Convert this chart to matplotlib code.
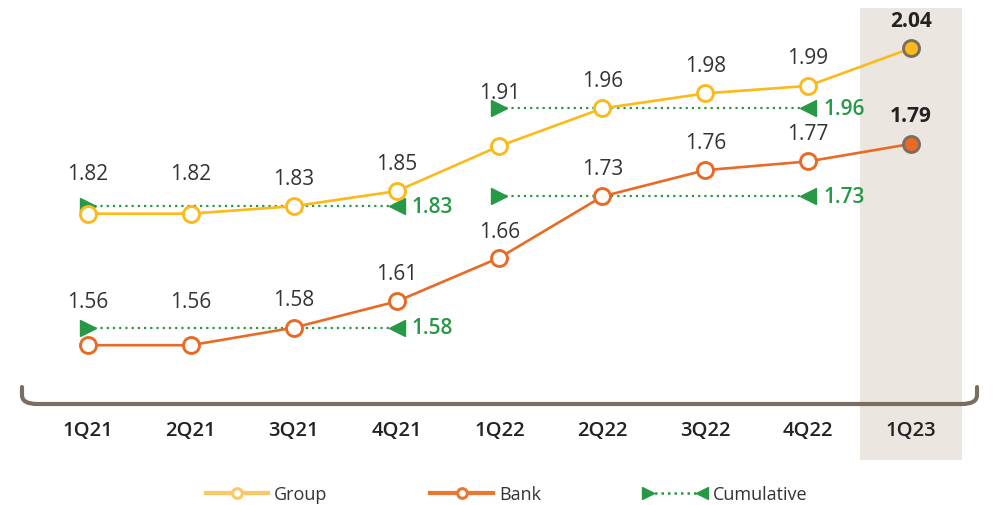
#%% IMPORTS
import numpy as np
import matplotlib.pyplot as plt
from matplotlib.lines import Line2D
from matplotlib.patches import PathPatch
from matplotlib.path import Path
from matplotlib.legend_handler import HandlerBase

#%% DATA
quarters = ['1Q21', '2Q21', '3Q21', '4Q21', '1Q22', '2Q22', '3Q22', '4Q22', '1Q23']
group = [1.82, 1.82, 1.83, 1.85, 1.91, 1.96, 1.98, 1.99, 2.04]
bank = [1.56, 1.56, 1.58, 1.61, 1.66, 1.73, 1.76, 1.77, 1.79]
cum_start = [0, 4]
cum_end = [3, 7]
group_cum = [1.83, 1.96]
bank_cum = [1.58, 1.73]

### styles
c_group = '#fbb91a'
c_bank = '#e96a25'
c_cum = '#279845'
c_edge = '#7a6e62'
c_band = '#ebe7e0'
c_text = '#333333'
font = ['Open Sans', 'DejaVu Sans']
## label offsets above the points (pixels), bigger where a cumulative line starts
group_off = [40, 40, 28, 28, 54, 28, 28, 28, 28]
bank_off = [44, 44, 28, 28, 26, 28, 28, 28, 28]

W, H = 993, 506


class CumHandler(HandlerBase):
    def create_artists(self, legend, orig_handle, xdescent, ydescent,
                       width, height, fontsize, trans):
        y = height / 2 - ydescent
        x0, x1 = -xdescent + 3, width - xdescent - 3
        line = Line2D([x0, x1], [y, y], color=c_cum, lw=1.8, ls=(0, (1, 1.6)))
        m1 = Line2D([x0], [y], marker='>', ms=9, color=c_cum, lw=0)
        m2 = Line2D([x1], [y], marker='<', ms=9, color=c_cum, lw=0)
        for a in (line, m1, m2):
            a.set_transform(trans)
        return [line, m1, m2]


#%% PLOT
fig = plt.figure(figsize=(W / 100, H / 100), dpi=100)
ax = fig.add_axes([0, 0, 1, 1])
ax2 = ax.twinx()
for a in (ax, ax2):
    a.axis('off')

x = np.arange(len(quarters))
ax.set_xlim(-0.855, 8.797)
ax.set_ylim(1.4326, 2.1055)
ax2.set_ylim(1.3774, 1.9556)

### highlight band for latest quarter
ax.axvspan(7.5, 8.5, ymin=1 - 461 / H, ymax=1 - 9 / H, color=c_band, lw=0, zorder=0)

### cumulative lines
for a, vals in ((ax, group_cum), (ax2, bank_cum)):
    for s, e, v in zip(cum_start, cum_end, vals):
        a.plot([x[s], x[e]], [v, v], color=c_cum, lw=1.6, ls=(0, (1, 1.8)), zorder=2)
        a.plot(x[s], v, marker='>', ms=11, color=c_cum, lw=0, zorder=3)
        a.plot(x[e], v, marker='<', ms=11, color=c_cum, lw=0, zorder=3)
        a.annotate(f'{v:.2f}', (x[e], v), xytext=(15, 0), textcoords='offset pixels',
                   ha='left', va='center', fontsize=15, fontweight='semibold',
                   color=c_cum, family=font)

### main lines
for a, vals, col, offs in ((ax, group, c_group, group_off), (ax2, bank, c_bank, bank_off)):
    a.plot(x, vals, color=col, lw=1.9, zorder=4)
    a.plot(x[:-1], vals[:-1], lw=0, marker='o', ms=11.5, mfc='white', mec=col,
           mew=2.1, zorder=5)
    a.plot(x[-1], vals[-1], lw=0, marker='o', ms=11.5, mfc=col, mec=c_edge,
           mew=2.1, zorder=5)
    for i, v in enumerate(vals):
        last = i == len(vals) - 1
        a.annotate(f'{v:.2f}', (x[i], v), xytext=(0, offs[i]), textcoords='offset pixels',
                   ha='center', va='center', fontsize=15,
                   fontweight='bold' if last else 'normal',
                   color='#222222' if last else c_text, family=font)

### category labels
for i, q in enumerate(quarters):
    ax.text(x[i], 1 - 431 / H, q, transform=ax.get_xaxis_transform(),
            ha='center', va='center', fontsize=14.5, fontweight='semibold',
            color='#222222', family=font)

### bracket under the chart
pts = [(22, 388), (22, 396), (22, 405), (37, 405), (962, 405), (977, 405),
       (977, 396), (977, 388)]
codes = [Path.MOVETO, Path.LINETO, Path.CURVE3, Path.CURVE3, Path.LINETO,
         Path.CURVE3, Path.CURVE3, Path.LINETO]
verts = [(px / W, 1 - py / H) for px, py in pts]
fig.add_artist(PathPatch(Path(verts, codes), fill=False, lw=3, edgecolor=c_edge,
                         transform=fig.transFigure, capstyle='round', joinstyle='round'))

### legend
h_group = Line2D([], [], color='#fdc863', lw=3, marker='o', ms=7, mfc='white',
                 mec='#fdc863', mew=2.2)
h_bank = Line2D([], [], color='#ec7530', lw=3, marker='o', ms=7, mfc='white',
                mec='#ec7530', mew=2.2)
h_cum = Line2D([], [])
fig.legend([h_group, h_bank, h_cum], ['Group', 'Bank', 'Cumulative'],
           handler_map={h_cum: CumHandler()}, loc='center',
           bbox_to_anchor=(0.51, 1 - 495 / H), ncol=3, frameon=False, numpoints=1,
           handlelength=3.45, handletextpad=0.35, columnspacing=5.7,
           prop={'family': font, 'size': 13}, labelcolor=c_text)

plt.savefig('out.png', dpi=100)
